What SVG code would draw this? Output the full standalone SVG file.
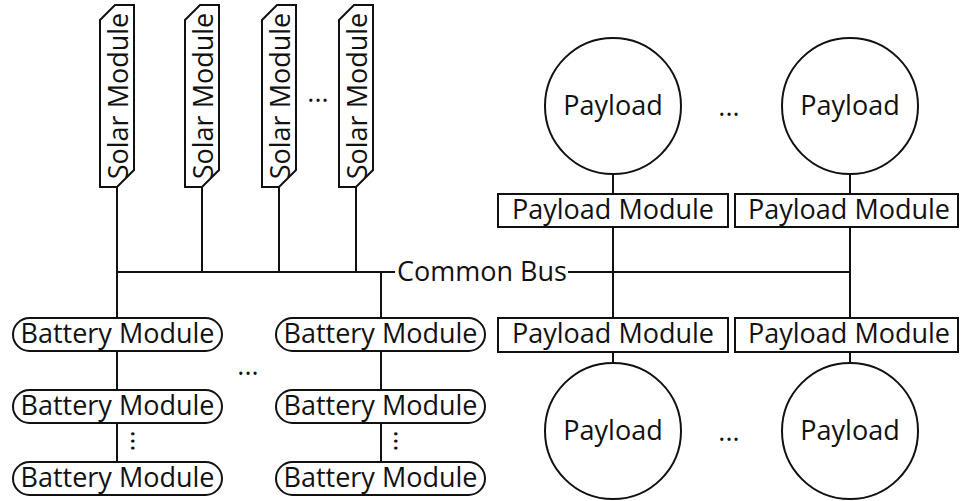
<svg xmlns="http://www.w3.org/2000/svg" width="961" height="501" viewBox="0 0 961 501">
<style>
.s{fill:#fff;stroke:#111;stroke-width:2}
.c{fill:none;stroke:#111;stroke-width:2}
text{font-family:"Open Sans","Liberation Sans",sans-serif;font-size:27px;fill:#111}
.m{text-anchor:middle}
</style>
<rect width="961" height="501" fill="#fff"/>
<g id="connectors" class="c">
<path d="M117,187V272M202,187V272M279,187V272M356,187V272M117,272H395M568,272H850"/>
<path d="M117,272V318M117,351V390M117,423V462"/>
<path d="M381,272V318M381,351V390M381,423V462"/>
<path d="M613,174V194M613,227V318M613,352V363"/>
<path d="M850,174V194M850,227V318M850,352V363"/>
</g>
<g id="solar1"><path class="s" d="M100,20L115,5H134V170L117,187H100Z"/><text class="m" transform="translate(128,96) rotate(-90)">Solar Module</text></g>
<g id="solar2"><path class="s" d="M185,20L200,5H219V170L202,187H185Z"/><text class="m" transform="translate(213,96) rotate(-90)">Solar Module</text></g>
<g id="solar3"><path class="s" d="M262,20L277,5H296V170L279,187H262Z"/><text class="m" transform="translate(290,96) rotate(-90)">Solar Module</text></g>
<g id="solar4"><path class="s" d="M339,20L354,5H373V170L356,187H339Z"/><text class="m" transform="translate(367,96) rotate(-90)">Solar Module</text></g>
<text class="m" x="318" y="102">...</text>
<text id="bus-label" x="397" y="281">Common Bus</text>
<g id="bat1"><rect class="s" x="13" y="318" width="209" height="33" rx="16.5"/><text class="m" x="117.5" y="343">Battery Module</text></g>
<g id="bat2"><rect class="s" x="13" y="390" width="209" height="33" rx="16.5"/><text class="m" x="117.5" y="415">Battery Module</text></g>
<g id="bat3"><rect class="s" x="13" y="462" width="209" height="33" rx="16.5"/><text class="m" x="117.5" y="487">Battery Module</text></g>
<g id="bat4"><rect class="s" x="276" y="318" width="209" height="33" rx="16.5"/><text class="m" x="380.5" y="343">Battery Module</text></g>
<g id="bat5"><rect class="s" x="276" y="390" width="209" height="33" rx="16.5"/><text class="m" x="380.5" y="415">Battery Module</text></g>
<g id="bat6"><rect class="s" x="276" y="462" width="209" height="33" rx="16.5"/><text class="m" x="380.5" y="487">Battery Module</text></g>
<text class="m" x="248" y="375">...</text>
<text class="m" transform="translate(131,441) rotate(90)">...</text>
<text class="m" transform="translate(394,441) rotate(90)">...</text>
<g id="payload1"><circle class="s" cx="613" cy="106" r="68"/><text class="m" x="613" y="115">Payload</text></g>
<g id="payload2"><circle class="s" cx="850" cy="106" r="68"/><text class="m" x="850" y="115">Payload</text></g>
<g id="pm1"><rect class="s" x="498" y="194" width="230" height="33"/><text class="m" x="613" y="219">Payload Module</text></g>
<g id="pm2"><rect class="s" x="735" y="194" width="223" height="33"/><text class="m" x="849" y="219">Payload Module</text></g>
<g id="pm3"><rect class="s" x="498" y="318" width="230" height="34"/><text class="m" x="613" y="343">Payload Module</text></g>
<g id="pm4"><rect class="s" x="735" y="318" width="223" height="34"/><text class="m" x="849" y="343">Payload Module</text></g>
<g id="payload3"><circle class="s" cx="613" cy="431" r="68"/><text class="m" x="613" y="440">Payload</text></g>
<g id="payload4"><circle class="s" cx="850" cy="431" r="68"/><text class="m" x="850" y="440">Payload</text></g>
<text class="m" x="729" y="116">...</text>
<text class="m" x="729" y="441">...</text>
</svg>
